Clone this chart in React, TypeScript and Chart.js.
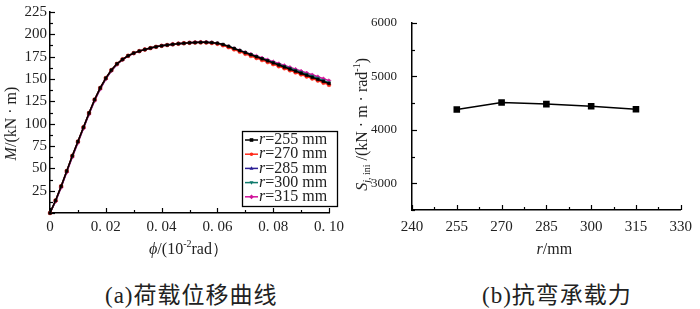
import React, { useEffect, useRef } from 'react';
import { Chart, registerables } from 'chart.js';
Chart.register(...registerables);

// ---------- data (a) ----------
const PHI = [0, 0.002, 0.004, 0.006, 0.008, 0.01, 0.012, 0.014, 0.016, 0.018, 0.02, 0.022, 0.024, 0.026, 0.028, 0.03, 0.032, 0.034, 0.036, 0.038, 0.04, 0.042, 0.044, 0.046, 0.048, 0.05, 0.052, 0.054, 0.056, 0.058, 0.06, 0.062, 0.064, 0.066, 0.068, 0.07, 0.072, 0.074, 0.076, 0.078, 0.08, 0.082, 0.084, 0.086, 0.088, 0.09, 0.092, 0.094, 0.096, 0.098, 0.1];
const M_255 = [0, 14, 30, 47, 64, 80, 96, 112, 127, 140, 151, 160, 167, 172, 176, 179, 181.2, 183, 184.6, 186, 187.1, 188, 188.8, 189.5, 190, 190.5, 190.8, 191, 191, 190.7, 190, 188.6, 186.6, 184.2, 181.8, 179.5, 177.2, 174.9, 172.6, 170.3, 168, 165.7, 163.4, 161.1, 158.8, 156.5, 154.2, 151.9, 149.6, 147.3, 145];
const M_270 = [0, 14, 30, 47, 64, 80, 96, 112, 127, 140, 151, 160, 167, 172, 176, 179, 181.2, 183, 184.6, 186, 187.1, 188, 188.8, 189.5, 190, 190.5, 190.8, 190.9, 190.8, 190.3, 189.4, 187.8, 185.6, 183.1, 180.6, 178.2, 175.8, 173.5, 171.2, 168.9, 166.6, 164.3, 162, 159.7, 157.4, 155.1, 152.8, 150.5, 148.2, 145.8, 143.4];
const M_285 = [0, 13.8, 29.8, 46.8, 63.8, 79.8, 95.8, 111.8, 126.8, 139.8, 150.8, 159.8, 166.8, 171.9, 175.9, 178.9, 181.2, 183, 184.6, 186, 187.1, 188, 188.8, 189.5, 190, 190.5, 190.9, 191.1, 191, 190.6, 189.8, 188.3, 186.2, 183.8, 181.4, 179.1, 176.8, 174.5, 172.2, 169.9, 167.6, 165.3, 163, 160.7, 158.4, 156.1, 153.8, 151.5, 149.2, 146.9, 144.6];
const M_300 = [0, 13.6, 29.5, 46.5, 63.5, 79.5, 95.5, 111.5, 126.5, 139.5, 150.5, 159.5, 166.6, 171.8, 175.8, 178.9, 181.2, 183, 184.6, 186, 187.1, 188, 188.8, 189.5, 190, 190.5, 190.9, 191.1, 191.1, 190.7, 189.9, 188.5, 186.5, 184.2, 181.9, 179.6, 177.4, 175.2, 173, 170.8, 168.6, 166.4, 164.2, 162, 159.8, 157.6, 155.4, 153.2, 151, 148.4, 145.8];
const M_315 = [0, 13, 28.5, 45.5, 62.5, 78.5, 94.5, 110.5, 125.5, 138.5, 149.8, 159, 166.2, 171.5, 175.6, 178.7, 181, 182.9, 184.5, 186, 187.1, 188, 188.9, 189.6, 190.2, 190.7, 191.1, 191.3, 191.2, 190.6, 189.6, 188, 186.2, 184.1, 182, 179.9, 177.8, 175.7, 173.6, 171.5, 169.4, 167.3, 165.2, 163.1, 161, 158.9, 156.8, 154.7, 152.6, 150.4, 148.2];
const SERIES_VALUES = [M_255, M_270, M_285, M_300, M_315];
const SERIES_NAMES = ['=255 mm', '=270 mm', '=285 mm', '=300 mm', '=315 mm'];
const SERIES_COLORS = ['#000000', '#ff2a1a', '#2b1f95', '#0f7a6c', '#d0129a'];
const SERIES_MARKERS = ['rect', 'circle', 'triangle', 'triangle', 'rectRot'];
const SERIES_ROT = [0, 0, 0, 180, 0];
const X_TICKS_A = [0, 0.02, 0.04, 0.06, 0.08, 0.1];
const Y_TICKS_A = [0, 25, 50, 75, 100, 125, 150, 175, 200, 225];

// ---------- data (b) ----------
const R_VALUES = [255, 270, 285, 300, 315];
const S_VALUES = [4380, 4510, 4480, 4440, 4385];
const X_TICKS_B = [240, 255, 270, 285, 300, 315, 330];
const Y_TICKS_B = [3000, 4000, 5000, 6000];

const SERIF = '"Liberation Serif", "Times New Roman", serif';
const TXT = '#222';

type Seg = { t: string; italic?: boolean; sup?: boolean; sub?: boolean };

function drawRich(ctx: CanvasRenderingContext2D, segs: Seg[], x: number, y: number, rotate: boolean, size: number) {
  const fontOf = (s: Seg) => `${s.italic ? 'italic ' : ''}${s.sup || s.sub ? Math.round(size * 0.65) : size}px ${SERIF}`;
  let total = 0;
  const widths = segs.map((s) => {
    ctx.font = fontOf(s);
    const w = ctx.measureText(s.t).width;
    total += w;
    return w;
  });
  ctx.save();
  ctx.translate(x, y);
  if (rotate) ctx.rotate(-Math.PI / 2);
  ctx.fillStyle = TXT;
  ctx.textBaseline = 'middle';
  ctx.textAlign = 'left';
  let cx = -total / 2;
  segs.forEach((s, i) => {
    ctx.font = fontOf(s);
    const dy = s.sup ? -size * 0.33 : s.sub ? size * 0.28 : 0;
    ctx.fillText(s.t, cx, dy);
    cx += widths[i];
  });
  ctx.restore();
}

function drawMarker(ctx: CanvasRenderingContext2D, style: string, rot: number, x: number, y: number, r: number) {
  ctx.beginPath();
  if (style === 'rect') {
    ctx.rect(x - r, y - r, 2 * r, 2 * r);
  } else if (style === 'circle') {
    ctx.arc(x, y, r, 0, Math.PI * 2);
  } else if (style === 'triangle') {
    const s = rot === 180 ? -1 : 1;
    ctx.moveTo(x, y - s * r * 1.2);
    ctx.lineTo(x - r * 1.1, y + s * r * 0.8);
    ctx.lineTo(x + r * 1.1, y + s * r * 0.8);
    ctx.closePath();
  } else {
    ctx.moveTo(x, y - r * 1.3);
    ctx.lineTo(x + r * 1.3, y);
    ctx.lineTo(x, y + r * 1.3);
    ctx.lineTo(x - r * 1.3, y);
    ctx.closePath();
  }
  ctx.fill();
}

function makeDeco(cfg: {
  titles: (ca: any) => { segs: Seg[]; x: number; y: number; rotate: boolean; size: number }[];
  legend?: boolean;
}) {
  return {
    id: 'deco',
    afterDraw(chart: any) {
      const ctx: CanvasRenderingContext2D = chart.ctx;
      const xs = chart.scales.x;
      const ys = chart.scales.y;
      const ca = chart.chartArea;
      ctx.save();
      ctx.strokeStyle = '#000';
      ctx.lineWidth = 1.2;
      const xt: number[] = xs.ticks.map((t: any) => t.value);
      const yt: number[] = ys.ticks.map((t: any) => t.value);
      const xTick = (v: number, len: number) => {
        const px = Math.round(xs.getPixelForValue(v)) + 0.5;
        ctx.beginPath();
        ctx.moveTo(px, ca.bottom);
        ctx.lineTo(px, ca.bottom - len);
        ctx.stroke();
      };
      const yTick = (v: number, len: number) => {
        const py = Math.round(ys.getPixelForValue(v)) + 0.5;
        ctx.beginPath();
        ctx.moveTo(ca.left, py);
        ctx.lineTo(ca.left + len, py);
        ctx.stroke();
      };
      xt.forEach((v) => xTick(v, 5));
      for (let i = 0; i < xt.length - 1; i++) xTick((xt[i] + xt[i + 1]) / 2, 3);
      yt.forEach((v) => yTick(v, 5));
      for (let i = 0; i < yt.length - 1; i++) yTick((yt[i] + yt[i + 1]) / 2, 3);
      if (yt[0] > ys.min) yTick(yt[0] - (yt[1] - yt[0]) / 2, 3);

      cfg.titles(ca).forEach((t) => drawRich(ctx, t.segs, t.x, t.y, t.rotate, t.size));

      if (cfg.legend) {
        const L = ca.right - 87;
        const T = ca.top + 119;
        const W = 95;
        const H = 75;
        ctx.strokeStyle = '#000';
        ctx.lineWidth = 1.3;
        ctx.strokeRect(Math.round(L) + 0.5, Math.round(T) + 0.5, W, H);
        SERIES_NAMES.forEach((name, i) => {
          const cy = T + 9 + i * 14.2;
          ctx.strokeStyle = SERIES_COLORS[i];
          ctx.fillStyle = SERIES_COLORS[i];
          ctx.lineWidth = 1.5;
          ctx.beginPath();
          ctx.moveTo(L + 3, cy);
          ctx.lineTo(L + 16, cy);
          ctx.stroke();
          drawMarker(ctx, SERIES_MARKERS[i], SERIES_ROT[i], L + 9.5, cy, 1.8);
          ctx.fillStyle = TXT;
          ctx.textBaseline = 'middle';
          ctx.textAlign = 'left';
          ctx.font = `italic 16px ${SERIF}`;
          ctx.fillText('r', L + 17, cy);
          const rw = ctx.measureText('r').width;
          ctx.font = `16px ${SERIF}`;
          ctx.fillText(name, L + 17 + rw, cy);
        });
      }
      ctx.restore();
    },
  };
}

const LeftChart: React.FC = () => {
  const ref = useRef<HTMLCanvasElement>(null);
  useEffect(() => {
    const datasets = SERIES_VALUES.map((vals, i) => ({
      label: 'r' + SERIES_NAMES[i],
      data: PHI.map((p, j) => ({ x: p, y: vals[j] })),
      borderColor: SERIES_COLORS[i],
      backgroundColor: SERIES_COLORS[i],
      borderWidth: 1.5,
      pointStyle: SERIES_MARKERS[i] as any,
      pointRotation: SERIES_ROT[i],
      pointRadius: 1.9,
      pointBorderWidth: 0.5,
      tension: 0,
      clip: false as any,
    }));
    const deco = makeDeco({
      legend: true,
      titles: (ca) => [
        {
          segs: [{ t: 'M', italic: true }, { t: '/(kN · m)' }],
          x: ca.left - 38,
          y: (ca.top + ca.bottom) / 2 + 11,
          rotate: true,
          size: 16,
        },
        {
          segs: [{ t: 'ϕ', italic: true }, { t: '/(10' }, { t: '-2', sup: true }, { t: 'rad）' }],
          x: (ca.left + ca.right) / 2 - 1,
          y: ca.bottom + 37,
          rotate: false,
          size: 16,
        },
      ],
    });
    const chart = new Chart(ref.current!, {
      type: 'line',
      data: { datasets },
      plugins: [deco],
      options: {
        animation: false,
        responsive: false,
        devicePixelRatio: 1,
        layout: { padding: { top: 10, right: 21, left: 0, bottom: 0 } },
        plugins: { legend: { display: false }, tooltip: { enabled: false } },
        scales: {
          x: {
            type: 'linear',
            min: 0,
            max: 0.1,
            afterBuildTicks: (s: any) => {
              s.ticks = X_TICKS_A.map((v) => ({ value: v }));
            },
            afterFit: (s: any) => {
              s.height = 49;
            },
            grid: { display: false, drawTicks: false },
            border: { display: true, color: '#000', width: 1.5 },
            ticks: {
              padding: 5,
              color: TXT,
              font: { family: SERIF, size: 15 },
              maxRotation: 0,
              autoSkip: false,
              callback: (v: any) => (v === 0 ? '0' : Number(v).toFixed(2).replace('.', '. ')),
            },
          },
          y: {
            type: 'linear',
            min: 0,
            max: 225,
            afterBuildTicks: (s: any) => {
              s.ticks = Y_TICKS_A.map((v) => ({ value: v }));
            },
            afterFit: (s: any) => {
              s.width = 50;
            },
            grid: { display: false, drawTicks: false },
            border: { display: true, color: '#000', width: 1.5 },
            ticks: {
              padding: 3,
              color: TXT,
              font: { family: SERIF, size: 15 },
              autoSkip: false,
              callback: (v: any) => (v === 0 ? '' : String(v)),
            },
          },
        },
      },
    });
    return () => chart.destroy();
  }, []);
  return <canvas ref={ref} width={350} height={262} style={{ position: 'absolute', left: 0, top: 0, width: 350, height: 262 }} />;
};

const RightChart: React.FC = () => {
  const ref = useRef<HTMLCanvasElement>(null);
  useEffect(() => {
    const deco = makeDeco({
      titles: (ca) => [
        {
          segs: [
            { t: 'S', italic: true },
            { t: 'j', italic: true, sub: true },
            { t: ', ini', sub: true },
            { t: ' /(kN · m · rad' },
            { t: '-1', sup: true },
            { t: ')' },
          ],
          x: ca.left - 49,
          y: (ca.top + ca.bottom) / 2 + 8,
          rotate: true,
          size: 16,
        },
        {
          segs: [{ t: 'r', italic: true }, { t: '/mm' }],
          x: (ca.left + ca.right) / 2 + 8,
          y: ca.bottom + 40,
          rotate: false,
          size: 16,
        },
      ],
    });
    const chart = new Chart(ref.current!, {
      type: 'line',
      data: {
        datasets: [
          {
            label: 'Sj,ini',
            data: R_VALUES.map((r, i) => ({ x: r, y: S_VALUES[i] })),
            borderColor: '#000',
            backgroundColor: '#000',
            borderWidth: 1.5,
            pointStyle: 'rect',
            pointRadius: 3.6,
            tension: 0,
          },
        ],
      },
      plugins: [deco],
      options: {
        animation: false,
        responsive: false,
        devicePixelRatio: 1,
        layout: { padding: { top: 10, right: 13, left: 0, bottom: 0 } },
        plugins: { legend: { display: false }, tooltip: { enabled: false } },
        scales: {
          x: {
            type: 'linear',
            min: 240,
            max: 330,
            afterBuildTicks: (s: any) => {
              s.ticks = X_TICKS_B.map((v) => ({ value: v }));
            },
            afterFit: (s: any) => {
              s.height = 52;
            },
            grid: { display: false, drawTicks: false },
            border: { display: true, color: '#000', width: 1.5 },
            ticks: {
              padding: 8,
              color: TXT,
              font: { family: SERIF, size: 15 },
              maxRotation: 0,
              autoSkip: false,
              callback: (v: any) => String(v),
            },
          },
          y: {
            type: 'linear',
            min: 2500,
            max: 6000,
            afterBuildTicks: (s: any) => {
              s.ticks = Y_TICKS_B.map((v) => ({ value: v }));
            },
            afterFit: (s: any) => {
              s.width = 62;
            },
            grid: { display: false, drawTicks: false },
            border: { display: true, color: '#000', width: 1.5 },
            ticks: {
              padding: 15,
              color: TXT,
              font: { family: SERIF, size: 13 },
              autoSkip: false,
              callback: (v: any) => String(v),
            },
          },
        },
      },
    });
    return () => chart.destroy();
  }, []);
  return <canvas ref={ref} width={350} height={262} style={{ position: 'absolute', left: 350, top: 0, width: 350, height: 262 }} />;
};

const captionStyle: React.CSSProperties = {
  position: 'absolute',
  top: 284,
  fontSize: 23,
  lineHeight: '24px',
  letterSpacing: 1,
  whiteSpace: 'nowrap',
  color: TXT,
  fontFamily: '"Liberation Serif", "Noto Sans CJK SC", serif',
};

export default function App() {
  useEffect(() => {
    document.body.style.margin = '0';
  }, []);
  return (
    <div style={{ position: 'relative', width: 700, height: 309, background: '#fff', overflow: 'hidden' }}>
      <LeftChart />
      <RightChart />
      <div style={{ ...captionStyle, left: 105 }}>(a)荷载位移曲线</div>
      <div style={{ ...captionStyle, left: 482 }}>(b)抗弯承载力</div>
    </div>
  );
}
